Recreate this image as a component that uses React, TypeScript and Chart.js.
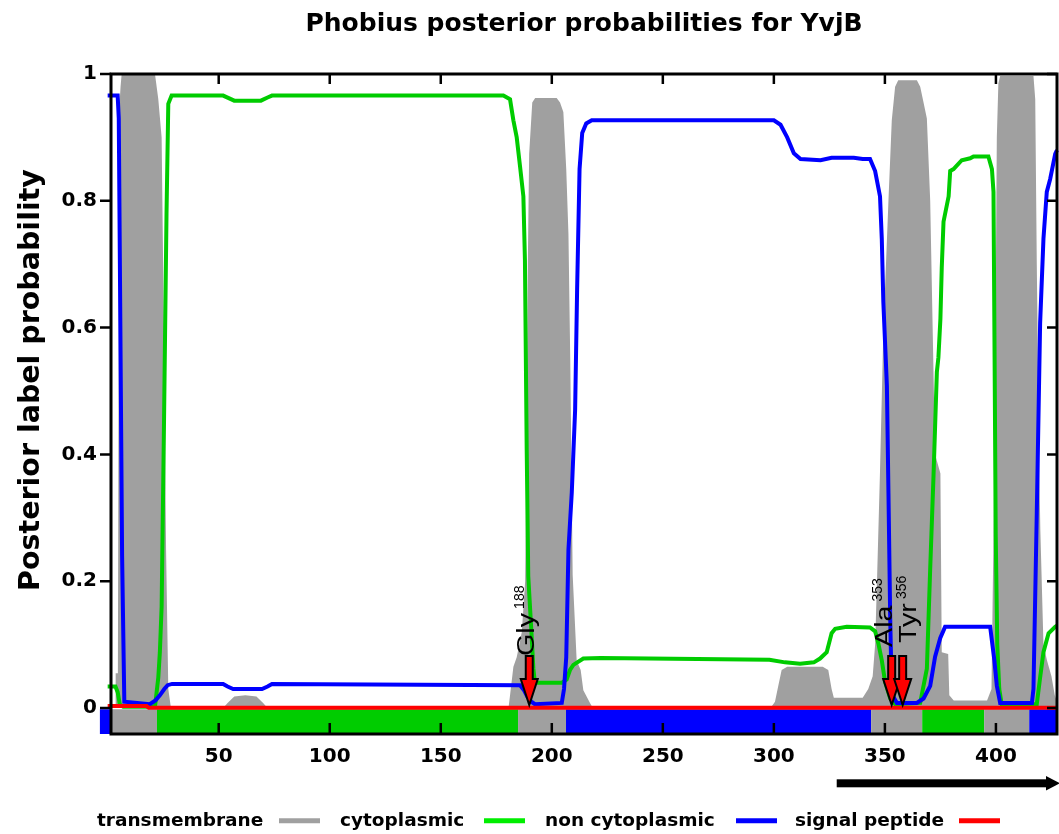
import React, { useEffect, useRef } from 'react';
import { Chart, registerables } from 'chart.js';

Chart.register(...registerables);

const TITLE = 'Phobius posterior probabilities for YvjB';
const Y_AXIS_TITLE = 'Posterior label probability';
const X_TICKS = [50, 100, 150, 200, 250, 300, 350, 400];
const Y_TICKS = [0, 0.2, 0.4, 0.6, 0.8, 1];
const Y_TICK_LABELS = ['0', '0.2', '0.4', '0.6', '0.8', '1'];
const X_RANGE = [1.5, 427.5];
const Y_RANGE = [-0.041, 1];

const LEGEND_LABELS = ['transmembrane', 'cytoplasmic', 'non cytoplasmic', 'signal peptide'];

// transmembrane posterior (grey area)
const TM_X = [0, 3.5, 3.6, 4.6, 4.9, 5.3, 5.8, 6.3, 21.3, 22.8, 24.3, 25.3, 26.3, 27.3, 28.5, 52, 54, 57, 62, 67, 70, 72,
  180.5, 181.2, 182.7, 184.2, 186.5, 188, 188.6, 189.2, 189.8, 191.2, 192.5, 202.2, 203.7, 205.2, 206.5, 207.5, 208.3, 209.4,
  211.2, 213, 214.2, 217.2, 218.5, 298.5, 300.5, 302, 303.5, 306, 322, 324.5, 326, 327, 340, 342.5, 344.5, 345.6, 346.5,
  347.8, 349.3, 351.6, 353.1, 354.6, 356, 364.4, 365.9, 367.4, 368.9, 370.4, 371.5, 372.6, 375, 375.6, 378.5, 379, 381,
  396, 398, 399, 399.8, 400.4, 401.1, 401.9, 416.9, 417.7, 418.4, 419.2, 420, 421.4, 423, 425, 426.5, 427.5];
const TM_Y = [0, 0, 0.055, 0.055, 0.5, 0.95, 0.98, 1.0, 1.0, 0.96, 0.9, 0.6, 0.25, 0.03, 0, 0, 0.008, 0.018, 0.02, 0.018, 0.008, 0,
  0, 0.02, 0.065, 0.08, 0.12, 0.2, 0.4, 0.7, 0.874, 0.955, 0.962, 0.962, 0.955, 0.94, 0.85, 0.747, 0.553, 0.21,
  0.075, 0.06, 0.028, 0.008, 0, 0, 0.01, 0.035, 0.06, 0.065, 0.065, 0.06, 0.03, 0.016, 0.016, 0.03, 0.05, 0.1, 0.208,
  0.374, 0.594, 0.8, 0.927, 0.98, 0.99, 0.99, 0.98, 0.955, 0.93, 0.8, 0.6, 0.4, 0.37, 0.088, 0.085, 0.02, 0.012,
  0.012, 0.03, 0.3, 0.6, 0.9, 0.985, 0.997, 0.997, 0.96, 0.7, 0.45, 0.28, 0.1, 0.075, 0.05, 0.02, 0.01];

// cytoplasmic posterior (green line)
const CYTO_X = [0, 3.5, 4.5, 5.5, 7, 21.3, 22.8, 23.5, 24.3, 25.3, 26.5, 27.3, 28.8, 52, 54.5, 57, 69, 72, 74,
  178.2, 181.2, 182.7, 184.2, 185.7, 187.2, 187.9, 188.7, 189.4, 190.9, 191.7, 192.4, 204.6, 206.7, 208.2, 209.7, 214.2,
  222, 298, 305, 311.8, 318, 320.8, 323.8, 326, 327.6, 332.8, 343.3, 345.6, 347.1, 348.6, 350.1, 352.4, 354.6, 365.9,
  368.9, 370.4, 371.9, 373.4, 374.1, 375, 375.6, 376.4, 378.7, 379.4, 380.9, 384.6, 388.4, 389.9, 396.6, 398.2, 398.9,
  399.4, 399.9, 400.6, 401.5, 402.6, 418.4, 419.9, 421.4, 423.7, 426.7, 427.5];
const CYTO_Y = [0.034, 0.034, 0.025, 0.005, 0.002, 0.002, 0.048, 0.088, 0.16, 0.43, 0.78, 0.953, 0.966, 0.966, 0.962, 0.958, 0.958, 0.963, 0.966,
  0.966, 0.96, 0.927, 0.9, 0.854, 0.807, 0.707, 0.407, 0.208, 0.115, 0.062, 0.04, 0.04, 0.045, 0.06, 0.068, 0.078,
  0.079, 0.076, 0.072, 0.07, 0.072, 0.078, 0.088, 0.118, 0.125, 0.128, 0.127, 0.121, 0.101, 0.075, 0.041, 0.015, 0.006, 0.008,
  0.062, 0.22, 0.367, 0.53, 0.553, 0.614, 0.694, 0.767, 0.807, 0.847, 0.85, 0.864, 0.867, 0.87, 0.87, 0.85, 0.814,
  0.55, 0.275, 0.1, 0.03, 0.006, 0.006, 0.048, 0.088, 0.118, 0.128, 0.13];

// non cytoplasmic posterior (blue line)
const NONCYTO_X = [0, 4.5, 5, 5.5, 6.5, 7.5, 19, 21.5, 23.5, 25.5, 27, 29, 52, 54, 56.5, 69.5, 72, 74,
  185.7, 187.5, 189, 190.8, 192.4, 204.5, 205.5, 206.5, 207.5, 209, 210.5, 211.4, 212.5, 213.7, 215.5, 218,
  300, 303, 306, 309, 312, 321, 326, 336, 340, 343.3, 345.6, 347.8, 348.6, 349.3, 350.9, 351.6, 352.4, 353.1,
  355.4, 364.4, 367.4, 370.4, 372.6, 374.9, 377.1, 397.4, 399.3, 400.4, 401.9, 416.2, 416.9, 418.4, 419.9, 421.4,
  422.9, 424.4, 426.7, 427.5];
const NONCYTO_Y = [0.966, 0.966, 0.93, 0.7, 0.24, 0.01, 0.006, 0.012, 0.02, 0.03, 0.036, 0.038, 0.038, 0.034, 0.03, 0.03, 0.034, 0.038,
  0.036, 0.028, 0.018, 0.01, 0.006, 0.008, 0.03, 0.08, 0.25, 0.34, 0.47, 0.66, 0.85, 0.907, 0.922, 0.927,
  0.927, 0.92, 0.9, 0.875, 0.866, 0.864, 0.868, 0.868, 0.866, 0.866, 0.847, 0.807, 0.74, 0.64, 0.508, 0.34, 0.14, 0.022,
  0.008, 0.008, 0.015, 0.035, 0.081, 0.11, 0.128, 0.128, 0.075, 0.035, 0.008, 0.008, 0.03, 0.308, 0.607, 0.74,
  0.814, 0.834, 0.874, 0.88];

// signal peptide posterior (red line)
const SP_X = [0, 17.5, 18.5, 427.5];
const SP_Y = [0.003, 0.003, 0.0005, 0.0005];

// predicted topology strip (index into LEGEND_LABELS)
const TOPO_START = [-3.5, 1.5, 22.2, 184.8, 206.4, 343.8, 366.8, 394.7, 415];
const TOPO_END = [1.5, 22.2, 184.8, 206.4, 343.8, 366.8, 394.7, 415, 427.5];
const TOPO_CLASS = [2, 0, 1, 0, 2, 0, 1, 0, 2];

// marked residues
const SITE_POS = [189.85, 353.05, 358.0];
const SITE_RES = ['Gly', 'Ala', 'Tyr'];
const SITE_NUM = ['188', '353', '356'];

// black region arrow start (residue)
const ARROW_FROM = 328.3;

const LINE_COLORS = ['#a0a0a0', '#00cc00', '#0000ff', '#ff0000'];
const LEGEND_COLORS = ['#a0a0a0', '#00ee00', '#0000ff', '#ff0000'];
const STRIP_COLORS = ['#a0a0a0', '#00cc00', '#0000ff'];

const pts = (xs: number[], ys: number[]) => xs.map((x, i) => ({ x, y: ys[i] }));

const FAMILY = "'DejaVu Sans', sans-serif";
const ANNOT_FAMILY = "'Liberation Sans', Arial, sans-serif";

function drawRotated(ctx: CanvasRenderingContext2D, text: string, x: number, yBottom: number, font: string, sx: number) {
  ctx.save();
  ctx.translate(x, yBottom);
  ctx.rotate(-Math.PI / 2);
  ctx.scale(sx, 1);
  ctx.font = font;
  ctx.textAlign = 'left';
  ctx.textBaseline = 'alphabetic';
  ctx.fillText(text, 0, 0);
  const w = ctx.measureText(text).width * sx;
  ctx.restore();
  return w;
}

const decor = {
  id: 'phobiusDecor',
  beforeDatasetsDraw(chart: any) {
    const { ctx, scales } = chart;
    const xs = scales.x, ys = scales.y;
    const top = ys.getPixelForValue(-0.002);
    const bottom = ys.getPixelForValue(Y_RANGE[0]);
    ctx.save();
    for (let i = 0; i < TOPO_START.length; i++) {
      const x0 = xs.getPixelForValue(TOPO_START[i]);
      const x1 = xs.getPixelForValue(TOPO_END[i]);
      ctx.fillStyle = STRIP_COLORS[TOPO_CLASS[i]];
      ctx.fillRect(x0, top, x1 - x0, bottom - top);
    }
    ctx.restore();
  },
  afterDatasetsDraw(chart: any) {
    const { ctx, chartArea, scales } = chart;
    const xs = scales.x, ys = scales.y;
    const { left, right, top, bottom } = chartArea;
    ctx.save();
    // frame
    ctx.strokeStyle = '#000';
    ctx.lineWidth = 3;
    ctx.strokeRect(left, top, right - left, bottom - top);
    // ticks
    ctx.lineWidth = 2.5;
    ctx.beginPath();
    for (const v of Y_TICKS) {
      const py = ys.getPixelForValue(v);
      ctx.moveTo(left - 11, py); ctx.lineTo(left, py);
      ctx.moveTo(right, py); ctx.lineTo(right - 10, py);
    }
    for (const v of X_TICKS) {
      const px = xs.getPixelForValue(v);
      ctx.moveTo(px, top); ctx.lineTo(px, top + 10);
      ctx.moveTo(px, bottom); ctx.lineTo(px, bottom - 11);
    }
    ctx.stroke();

    // site arrows
    const tipY = ys.getPixelForValue(0) - 3;
    const dxs = [5, 0, 13.8];
    const dys = [0, -9, -13];
    for (let i = 0; i < SITE_POS.length; i++) {
      const cx = xs.getPixelForValue(SITE_POS[i]);
      const topY = tipY - 49;
      const baseY = tipY - 26;
      ctx.beginPath();
      ctx.moveTo(cx - 3.5, topY);
      ctx.lineTo(cx + 3.5, topY);
      ctx.lineTo(cx + 3.5, baseY);
      ctx.lineTo(cx + 8.5, baseY);
      ctx.lineTo(cx, tipY);
      ctx.lineTo(cx - 8.5, baseY);
      ctx.lineTo(cx - 3.5, baseY);
      ctx.closePath();
      ctx.fillStyle = '#ff0000';
      ctx.fill();
      ctx.strokeStyle = '#000';
      ctx.lineWidth = 2;
      ctx.lineJoin = 'miter';
      ctx.stroke();

      ctx.fillStyle = '#000';
      const bx = cx + dxs[i];
      const by = topY + dys[i];
      const w = drawRotated(ctx, SITE_RES[i], bx, by, `23px ${ANNOT_FAMILY}`, 1.25);
      drawRotated(ctx, SITE_NUM[i], bx - 10, by - w - 4, `14px ${ANNOT_FAMILY}`, 1);
    }
    ctx.restore();
  },
  afterDraw(chart: any) {
    const { ctx, chartArea, scales } = chart;
    const xs = scales.x;
    ctx.save();
    ctx.fillStyle = '#000';
    // title
    ctx.font = `bold 25px ${FAMILY}`;
    ctx.textAlign = 'center';
    ctx.textBaseline = 'alphabetic';
    ctx.fillText(TITLE, (chartArea.left + chartArea.right) / 2, 31);
    // y axis title
    ctx.save();
    ctx.translate(38.5, 380);
    ctx.rotate(-Math.PI / 2);
    ctx.font = `bold 28.5px ${FAMILY}`;
    ctx.textAlign = 'center';
    ctx.fillText(Y_AXIS_TITLE, 0, 0);
    ctx.restore();

    // black arrow
    const ax0 = xs.getPixelForValue(ARROW_FROM);
    const ay = 783.3;
    ctx.fillRect(ax0, ay - 4, 1047 - ax0, 8);
    ctx.beginPath();
    ctx.moveTo(1046, ay - 7.3);
    ctx.lineTo(1060, ay);
    ctx.lineTo(1046, ay + 7.3);
    ctx.closePath();
    ctx.fill();

    // legend
    const textX = [97, 340, 545, 795];
    const lineX = [279, 484, 736, 959];
    ctx.font = `bold 18.5px ${FAMILY}`;
    ctx.textAlign = 'left';
    for (let i = 0; i < LEGEND_LABELS.length; i++) {
      ctx.fillStyle = '#000';
      ctx.fillText(LEGEND_LABELS[i], textX[i], 826);
      ctx.strokeStyle = LEGEND_COLORS[i];
      ctx.lineWidth = 5;
      ctx.beginPath();
      ctx.moveTo(lineX[i], 820.7);
      ctx.lineTo(lineX[i] + 41, 820.7);
      ctx.stroke();
    }
    ctx.restore();
  },
};

export default function App() {
  const ref = useRef<HTMLCanvasElement>(null);
  useEffect(() => {
    document.body.style.margin = '0';
    const canvas = ref.current;
    if (!canvas) return;
    const tickFont = { family: FAMILY, size: 20, weight: 'bold' as const };
    const lineDs = (label: string, xs: number[], ys: number[], color: string, order: number) => ({
      label,
      data: pts(xs, ys),
      borderColor: color,
      borderWidth: 4,
      pointRadius: 0,
      fill: false,
      tension: 0,
      order,
      clip: 5,
    });
    const chart = new Chart(canvas, {
      type: 'line',
      data: {
        datasets: [
          lineDs(LEGEND_LABELS[3], SP_X, SP_Y, LINE_COLORS[3], 0),
          lineDs(LEGEND_LABELS[2], NONCYTO_X, NONCYTO_Y, LINE_COLORS[2], 1),
          lineDs(LEGEND_LABELS[1], CYTO_X, CYTO_Y, LINE_COLORS[1], 2),
          {
            label: LEGEND_LABELS[0],
            data: pts(TM_X, TM_Y),
            borderWidth: 0,
            borderColor: 'rgba(0,0,0,0)',
            backgroundColor: LINE_COLORS[0],
            pointRadius: 0,
            fill: 'origin',
            tension: 0,
            order: 3,
          },
        ] as any,
      },
      options: {
        responsive: false,
        animation: false,
        events: [],
        layout: { padding: { top: 74, right: 2, left: 0, bottom: 0 } },
        plugins: {
          legend: { display: false },
          title: { display: false },
          tooltip: { enabled: false },
        },
        scales: {
          x: {
            type: 'linear',
            position: 'bottom',
            min: X_RANGE[0],
            max: X_RANGE[1],
            grid: { display: false, drawTicks: false },
            border: { display: false },
            ticks: { font: tickFont, color: '#000', padding: 11, maxRotation: 0, autoSkip: false },
            afterBuildTicks: (s: any) => { s.ticks = X_TICKS.map((v) => ({ value: v })); },
            afterFit: (s: any) => { s.height = 100; },
          },
          y: {
            type: 'linear',
            position: 'left',
            min: Y_RANGE[0],
            max: Y_RANGE[1],
            grid: { display: false, drawTicks: false },
            border: { display: false },
            ticks: {
              font: tickFont, color: '#000', padding: 14, autoSkip: false,
              callback: (_v: any, i: number) => Y_TICK_LABELS[i],
            },
            afterBuildTicks: (s: any) => { s.ticks = Y_TICKS.map((v) => ({ value: v })); },
            afterFit: (s: any) => { s.width = 111; },
          },
        },
      } as any,
      plugins: [decor],
    });
    return () => chart.destroy();
  }, []);
  return <canvas ref={ref} width={1059} height={834} style={{ display: 'block', width: 1059, height: 834 }} />;
}
